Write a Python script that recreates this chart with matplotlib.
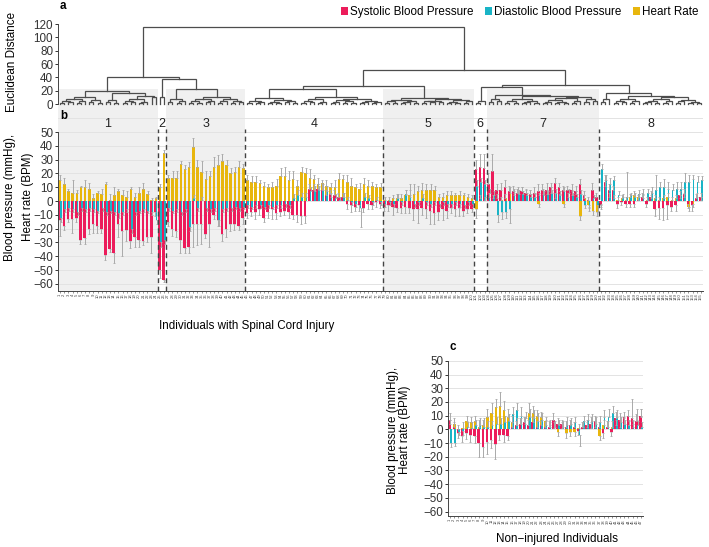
import numpy as np
import matplotlib
matplotlib.use('Agg')
import matplotlib.pyplot as plt
from matplotlib.patches import Patch

plt.rcParams['font.family'] = ['Liberation Sans', 'DejaVu Sans']
FS = 8.4

C_SBP = '#ec1c5b'
C_DBP = '#19b4c6'
C_HR = '#e8b60d'
C_ERR = '#a9a9a9'

# ---------------- data: SCI individuals (panel b) ----------------
cluster_names = ['1', '2', '3', '4', '5', '6', '7', '8']
cluster_sizes = [24, 2, 19, 33, 22, 3, 27, 25]

sbp = [-14, -18, -13, -13, -12, -28, -27, -20, -17, -18, -20, -39, -35, -38, -17, -22, -21, -29, -26, -28, -29, -26, -26, -8,
       -50, -57,
       -15, -20, -22, -28, -34, -33, -17, -17, -17, -24, -17, -10, -14, -24, -20, -17, -17, -18, -12,
       -9, -8, -8, -6, -12, -8, -6, -9, -8, -7, -8, -10, -10, -11, -11, 9, 8, 9, 8, 4, 5, 4, 3, 3, -2, -3, -4, -3, -5, -2, -3, -1, -2,
       -4, -3, -4, -5, -5, -4, -5, -6, -6, -5, -6, -7, -9, -8, -6, -7, -5, -6, -5, -7, -6, -6,
       23, 25, 24,
       12, 22, 8, 8, 10, 7, 7, 6, 7, 6, 5, 6, 7, 8, 8, 10, 13, 10, 8, 8, 8, 7, 12, 4, 1, 8, 3,
       -3, 14, 8, 8, -2, -1, -2, -2, -2, 1, 3, -2, 3, -6, -5, -5, -3, -4, -3, 4, 5, -2, -3, 2, 3]
sbp_err = [11, 3, 2, 10, 3, 3, 4, 4, 6, 5, 3, 4, 2, 7, 9, 18, 8, 5, 7, 5, 3, 4, 12, 3,
           6, 2,
           3, 5, 4, 10, 4, 5, 16, 15, 14, 3, 16, 3, 4, 5, 6, 5, 4, 3, 5,
           3, 3, 5, 4, 3, 4, 7, 4, 3, 3, 4, 3, 5, 6, 5, 3, 4, 3, 4, 4, 3, 4, 3, 3, 4, 5, 3, 4, 3, 4, 3, 3, 3,
           3, 4, 6, 3, 4, 5, 4, 8, 10, 5, 6, 10, 8, 6, 8, 5, 4, 5, 6, 4, 3, 2,
           7, 9, 10,
           8, 12, 4, 5, 5, 4, 4, 3, 3, 3, 3, 4, 5, 4, 5, 3, 4, 3, 3, 3, 4, 4, 4, 3, 2, 5, 3,
           3, 5, 4, 3, 3, 2, 2, 2, 2, 3, 3, 2, 4, 5, 8, 9, 10, 3, 4, 3, 4, 3, 4, 3, 3]
dbp = [-12, -6, -5, -6, -8, -5, -6, -5, -6, -7, -5, -8, -7, -8, -9, -8, -6, -20, -8, -7, -6, -7, -8, -14,
       -30, -28,
       -5, -7, -6, -8, -6, -19, 2, -5, 1, -5, -6, -5, -14, -6, -5, -5, -4, -5, -4,
       -3, -4, -3, -3, -4, -3, -4, -3, -3, -2, -3, 2, 4, 3, 3, 7, 7, 8, 8, 7, 3, 2, 1, 3, 1, -1, -2, -5, 3, 2, -1, 1, -1,
       -2, -1, -2, 2, -1, 5, 3, -2, -1, 2, -1, -2, -1, -2, -1, -2, -2, -1, -2, -3, -1, -2,
       11, 14, 12,
       6, 4, -10, -8, -8, -6, 4, 5, 5, 4, 3, 3, 4, 4, 5, 6, 6, 5, 7, 6, 4, 3, 5, -3, -4, 2, -3,
       23, 15, 12, 15, 4, 3, 3, 4, 3, 5, 5, 6, 6, 8, 10, 10, 9, 8, 9, 9, 14, 14, 16, 14, 15]
dbp_err = [3, 2, 2, 2, 2, 2, 2, 2, 2, 2, 2, 2, 2, 2, 3, 2, 2, 3, 2, 2, 2, 2, 2, 3,
           3, 3,
           2, 2, 2, 2, 2, 3, 2, 2, 2, 2, 2, 2, 4, 2, 2, 2, 2, 2, 2,
           2, 2, 2, 2, 2, 2, 2, 2, 2, 2, 2, 3, 4, 3, 3, 3, 4, 3, 4, 4, 3, 3, 2, 3, 2, 2, 2, 14, 3, 2, 2, 2, 2,
           2, 2, 2, 3, 2, 3, 5, 2, 2, 3, 2, 2, 2, 2, 2, 2, 2, 2, 2, 2, 2, 2,
           4, 3, 3,
           3, 3, 5, 5, 4, 10, 3, 3, 2, 2, 2, 2, 2, 3, 2, 2, 3, 2, 3, 3, 2, 2, 3, 2, 3, 2, 4,
           4, 4, 5, 3, 3, 2, 18, 2, 3, 3, 4, 3, 4, 11, 4, 6, 5, 4, 5, 5, 6, 5, 3, 4, 3]
hr = [15, 12, 7, 6, 6, 10, 10, 9, 2, 6, 5, 12, 1, 4, 7, 4, 3, 9, 3, 6, 9, 5, 1, 2,
      10, 35,
      17, 17, 17, 27, 23, 25, 39, 25, 21, 16, 18, 25, 26, 29, 26, 20, 21, 25, 24,
      15, 14, 14, 13, 11, 10, 10, 11, 18, 18, 15, 16, 11, 21, 20, 17, 16, 12, 13, 11, 10, 10, 16, 16, 14, 11, 10, 9, 12, 11, 11, 10, 10,
      1, 1, 2, 2, 2, 4, 4, 5, 7, 8, 8, 8, 8, 3, 3, 4, 4, 4, 4, 4, 3, 2,
      -6, 2, 1,
      3, 2, 2, 1, 2, 6, 6, 6, 7, 6, 5, 3, -2, 5, 5, 6, 2, 4, -2, 3, 4, 5, -11, 2, -3, -7, -8,
      -2, 11, 3, 2, 1, 2, 1, 3, 4, 3, 2, 1, 2, 2, 1, 2, 3, 1, 2, 2, 3, -4, -2, 3, 1]
hr_err = [4, 5, 2, 9, 2, 1, 5, 4, 3, 1, 4, 2, 4, 6, 2, 4, 4, 1, 3, 4, 4, 2, 1, 1,
          2, 2,
          2, 5, 5, 2, 3, 3, 7, 5, 8, 6, 4, 7, 7, 5, 4, 4, 4, 4, 3,
          4, 4, 4, 2, 3, 2, 4, 5, 6, 7, 7, 6, 4, 4, 4, 6, 3, 5, 2, 4, 3, 5, 4, 3, 5, 6, 2, 4, 5, 4, 3, 2, 3,
          2, 2, 2, 3, 3, 4, 8, 7, 4, 5, 4, 4, 3, 2, 3, 3, 3, 2, 3, 2, 2, 2,
          6, 2, 2,
          3, 2, 3, 2, 3, 4, 3, 4, 3, 2, 3, 3, 2, 4, 3, 4, 4, 3, 2, 3, 3, 2, 3, 2, 2, 3, 3,
          2, 4, 3, 2, 2, 2, 2, 2, 3, 2, 2, 2, 2, 2, 2, 2, 3, 2, 2, 2, 3, 3, 2, 3, 2]
sci_ids = [str(i + 1) for i in range(len(sbp))]

# dendrogram (newick-like, leaves 'L', merge heights after ')')
tree_c1 = "(((((L,L)2,(L,L)3)5,((L,L)2,L)4)8,((L,L)3,(L,L)2)6)11,(((L,L)3,(L,L)2)6,((((L,L)2,(L,L)3)4,((L,L)2,L)3)7,(L,L)10)12)17)20"
tree_c2 = "(L,L)11"
tree_c3 = "(((L,L)3,((L,L)2,L)4)7,((((L,L)2,(L,L)2)5,((L,L)3,L)4)8,(((L,L)2,L)4,((L,L)2,(L,L)3)5)7)11)22"
tree_c4 = "((((L,L)2,((L,L)2,L)3)5,(((L,L)2,(L,L)2)3,((L,L)3,(L,L)2)4)6)9,((((L,L)2,(L,L)3)4,((L,L)2,L)3)7,((((L,L)2,L)3,((L,L)2,(L,L)2)4)6,(((L,L)2,L)3,((L,L)2,L)3)5)8)11)22"
tree_c5 = "((((L,L)2,(L,L)2)4,(((L,L)2,L)3,(L,L)2)4)6,((((L,L)2,(L,L)3)4,(L,L)3)5,(((L,L)2,(L,L)2)3,((L,L)2,L)4)6)7)9"
tree_c6 = "((L,L)2,L)4"
tree_c7 = "(((L,L)3,(L,L)4)7,((((L,L)2,(L,L)2)4,(((L,L)2,L)3,(L,L)2)5)8,(((((L,L)2,L)3,((L,L)2,(L,L)2)3)6,((L,L)2,L)4)9,((L,L)3,(L,L)4)7)10)12)13"
tree_c8 = "(((L,L)3,L)7,((((L,L)2,(L,L)3)5,((L,L)2,L)4)7,(((((L,L)2,L)3,(L,L)2)4,((L,L)2,L)5)8,(((L,L)2,L)4,((L,L)2,(L,L)2)3)6)10)12)16"
tree_full = ("((" + tree_c1 + ",(" + tree_c2 + "," + tree_c3 + ")38)40,((" + tree_c4 + "," + tree_c5 +
             ")27.5,((" + tree_c6 + "," + tree_c7 + ")25," + tree_c8 + ")29)51)115")

# ---------------- data: non-injured (panel c) ----------------
sbp_c = [7, 2, -3, -5, -3, -4, -5, -10, -13, -9, -8, -11, -4, -4, -5, 2, 3, 4, 5, 3, 5, 2, 3, 2, 2, 7, 4, 4, 2, 3,
         2, -1, 2, 3, 4, 6, 2, -3, 2, -2, 8, 7, 9, 10, 8, 6, 10]
sbp_err_c = [5, 3, 3, 4, 4, 5, 5, 10, 7, 9, 6, 11, 4, 5, 3, 3, 3, 4, 4, 4, 4, 4, 3, 3, 4, 5, 4, 3, 4, 4,
             3, 3, 3, 4, 5, 4, 3, 3, 4, 3, 5, 5, 4, 4, 14, 5, 5]
dbp_c = [-10, -10, -2, -1, 2, 1, 3, 3, 2, 2, 3, 4, 4, 5, 6, 11, 14, 10, 8, 9, 8, 6, 7, 3, 3, 2, 3, 2, 3, 4,
         5, -4, 6, 7, 6, 4, 5, 9, 9, 12, 9, 5, 4, 3, 4, 3, 2]
dbp_err_c = [3, 2, 2, 3, 3, 4, 4, 5, 6, 4, 3, 5, 4, 5, 5, 5, 5, 6, 5, 6, 6, 6, 5, 4, 4, 4, 4, 4, 6, 4,
             4, 8, 4, 4, 5, 5, 5, 5, 6, 5, 5, 4, 3, 3, 3, 3, 3]
hr_c = [4, 4, 0.5, 1, 6, 5, 6, 2, 3, 9, 12, 16, 17, 14, 9, 5, 3, 4, 4, 12, 12, 10, 9, 6, 2, 1, -2, 1, -3, -2,
        -2, 1, 2, 2, 1, 2, -5, 3, 2, 2, 3, 2, 4, 3, 2, 7, 9]
hr_err_c = [3, 4, 3, 4, 4, 4, 4, 5, 4, 6, 7, 6, 10, 7, 6, 5, 5, 4, 5, 7, 5, 4, 4, 3, 3, 4, 3, 4, 3, 3,
            3, 3, 3, 3, 4, 4, 3, 4, 4, 4, 4, 4, 4, 4, 4, 8, 6]
ctrl_ids = [str(i + 1) for i in range(len(sbp_c))]

legend_labels = ['Systolic Blood Pressure', 'Diastolic Blood Pressure', 'Heart Rate']


# ---------------- helpers ----------------
def parse_tree(s):
    pos = [0]

    def node():
        if s[pos[0]] == 'L':
            pos[0] += 1
            return None
        pos[0] += 1  # '('
        left = node()
        pos[0] += 1  # ','
        right = node()
        pos[0] += 1  # ')'
        j = pos[0]
        while j < len(s) and (s[j].isdigit() or s[j] == '.'):
            j += 1
        h = float(s[pos[0]:j])
        pos[0] = j
        return (h, left, right)
    return node()


def draw_tree(ax, root):
    counter = [0]

    def lay(n):
        if n is None:
            x = counter[0]
            counter[0] += 1
            return x, 0.0
        h, l, r = n
        xl, hl = lay(l)
        xr, hr_ = lay(r)
        ax.plot([xl, xl, xr, xr], [hl, h, h, hr_], color='#4d4d4d', lw=0.9,
                solid_joinstyle='miter', zorder=3)
        return (xl + xr) / 2.0, h
    lay(root)


def draw_bars(ax, s, se, d, de, h, he):
    x = np.arange(len(s))
    series = [(h, he, 0.02, 0.62, C_HR), (s, se, -0.1, 0.62, C_SBP), (d, de, 0.2, 0.42, C_DBP)]
    for vals, errs, off, w, col in series:
        v = np.asarray(vals, float)
        ax.bar(x + off, v, width=w, color=col, zorder=2, linewidth=0)
    for vals, errs, off, w, col in series:
        v = np.asarray(vals, float)
        e = np.asarray(errs, float)
        lo = np.where(v < 0, e, 0)
        hi = np.where(v >= 0, e, 0)
        ax.errorbar(x + off, v, yerr=[lo, hi], fmt='none', ecolor=C_ERR,
                    elinewidth=0.7, capsize=0.8, capthick=0.6, zorder=3)


def style_bar_axis(ax, ids, ylim):
    ax.set_ylim(*ylim)
    ax.set_xlim(-0.5, len(ids) - 0.5)
    for yv in range(-60, 61, 10):
        ax.axhline(yv, color='#e3e3e3', lw=0.7, zorder=1)
    ax.set_yticks(range(-60, 51, 10))
    ax.tick_params(axis='y', labelsize=FS, length=2.5, width=0.7, pad=1, colors='#333333')
    ax.set_xticks(np.arange(len(ids)))
    ax.set_xticklabels(ids, rotation=90, fontsize=3.0, color='#444444')
    ax.tick_params(axis='x', length=1.5, width=0.4, pad=0.5, colors='#444444')
    for sp in ['top', 'right']:
        ax.spines[sp].set_visible(False)
    ax.spines['left'].set_color('#444444')
    ax.spines['bottom'].set_color('#444444')
    ax.spines['left'].set_linewidth(0.7)
    ax.spines['bottom'].set_linewidth(0.7)
    ax.spines['left'].set_bounds(ylim[0], 50)


# ---------------- figure ----------------
W, H = 709, 547
fig = plt.figure(figsize=(W / 100, H / 100), dpi=100)


def ax_px(x0, y0, x1, y1):
    return fig.add_axes([x0 / W, 1 - y1 / H, (x1 - x0) / W, (y1 - y0) / H])


n_sci = len(sbp)
bounds = np.cumsum([0] + cluster_sizes)
shaded = [0, 2, 4, 6]

# panel a: dendrogram
axa = ax_px(58, 22.7, 703, 112.7)
axa.set_xlim(-0.5, n_sci - 0.5)
axa.set_ylim(-13, 122)
for k in shaded:
    axa.fill_between([bounds[k] - 0.5, bounds[k + 1] - 0.5], -13, 23, color='#f0f0f0', lw=0, zorder=0)
draw_tree(axa, parse_tree(tree_full))
axa.set_yticks(range(0, 121, 20))
axa.tick_params(axis='y', labelsize=FS, length=2.5, width=0.7, pad=1, colors='#333333')
axa.set_xticks([])
for sp in ['top', 'right', 'bottom']:
    axa.spines[sp].set_visible(False)
axa.spines['left'].set_bounds(0, 120)
axa.spines['left'].set_color('#444444')
axa.spines['left'].set_linewidth(0.7)

# panel b
axb = ax_px(58, 112.7, 703, 290.7)
ylim_b = (-65, 64)
for k in shaded:
    axb.axvspan(bounds[k] - 0.5, bounds[k + 1] - 0.5, color='#f0f0f0', lw=0, zorder=0)
style_bar_axis(axb, sci_ids, ylim_b)
draw_bars(axb, sbp, sbp_err, dbp, dbp_err, hr, hr_err)
for b in bounds[1:-1]:
    axb.plot([b - 0.5, b - 0.5], [ylim_b[0], 52], color='#444444', lw=1.0,
             ls=(0, (3.5, 2.5)), zorder=4)
for k, name in enumerate(cluster_names):
    axb.text((bounds[k] + bounds[k + 1] - 1) / 2.0, 56, name, ha='center', va='center',
             fontsize=FS + 0.6, color='#222222', zorder=5)

# panel c
axc = ax_px(448, 352.6, 643, 516.3)
style_bar_axis(axc, ctrl_ids, (-63.5, 56))
draw_bars(axc, sbp_c, sbp_err_c, dbp_c, dbp_err_c, hr_c, hr_err_c)

# texts
fig.text(60 / W, 1 - 6 / H, 'a', fontsize=FS, fontweight='bold', ha='left', va='center')
fig.text(60 / W, 1 - 116 / H, 'b', fontsize=FS, fontweight='bold', ha='left', va='center')
fig.text(450 / W, 1 - 347 / H, 'c', fontsize=FS, fontweight='bold', ha='left', va='center')
fig.text(12 / W, 1 - 62 / H, 'Euclidean Distance', rotation=90, fontsize=FS, ha='center', va='center')
fig.text(19 / W, 1 - 197 / H, 'Blood pressure (mmHg),\nHeart rate (BPM)', rotation=90,
         fontsize=FS, ha='center', va='center', multialignment='center', linespacing=1.65)
fig.text(399 / W, 1 - 430 / H, 'Blood pressure (mmHg),\nHeart rate (BPM)', rotation=90,
         fontsize=FS, ha='center', va='center', multialignment='center', linespacing=1.1)
fig.text(247 / W, 1 - 326 / H, 'Individuals with Spinal Cord Injury', fontsize=FS, ha='center', va='center')
fig.text(557 / W, 1 - 539 / H, 'Non\u2212injured Individuals', fontsize=FS, ha='center', va='center')

handles = [Patch(facecolor=c, edgecolor='none') for c in (C_SBP, C_DBP, C_HR)]
fig.legend(handles, legend_labels, loc='center right', bbox_to_anchor=(698 / W, 1 - 12 / H),
           ncol=3, frameon=False, fontsize=FS, handlelength=0.6, handleheight=0.6,
           handletextpad=0.15, columnspacing=1.0, borderpad=0, borderaxespad=0)

fig.savefig('out.png', dpi=100)
